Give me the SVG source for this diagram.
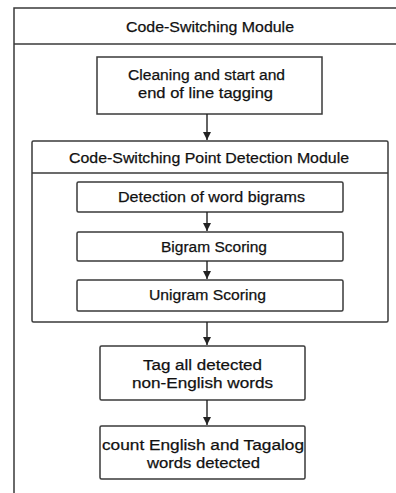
<svg xmlns="http://www.w3.org/2000/svg" width="396" height="493" viewBox="0 0 396 493">
<style>
.box{fill:#fff;stroke:#3a3a3a;stroke-width:1.5}
.ln{fill:none;stroke:#3a3a3a;stroke-width:1.5}
text{font-family:"Liberation Sans","Open Sans",sans-serif;font-size:15.5px;fill:#111;stroke:#111;stroke-width:0.25;text-anchor:middle}
.c{stroke:#222;stroke-width:1.4;fill:none;marker-end:url(#ah)}
</style>
<defs>
<marker id="ah" viewBox="0 0 10 10" refX="10" refY="5" markerWidth="8" markerHeight="8" markerUnits="userSpaceOnUse" orient="auto">
<path d="M0,0 L10,5 L0,10 z" fill="#222"/>
</marker>
</defs>
<rect width="396" height="493" fill="#fff"/>
<g id="outer">
<path class="ln" d="M14,493 L14,8 L396,8"/>
<line class="ln" x1="14" y1="44" x2="396" y2="44"/>
<text x="210" y="32" textLength="168" lengthAdjust="spacingAndGlyphs">Code-Switching Module</text>
</g>
<g id="cleaning">
<rect class="box" x="97" y="57" width="225" height="57"/>
<text x="206.5" y="80" textLength="157" lengthAdjust="spacingAndGlyphs">Cleaning and start and</text>
<text x="205.5" y="98" textLength="135" lengthAdjust="spacingAndGlyphs">end of line tagging</text>
</g>
<g id="cspd">
<rect class="box" x="32" y="141" width="356" height="181" rx="1.5"/>
<line class="ln" x1="32" y1="173" x2="388" y2="173"/>
<text x="209" y="163" textLength="280" lengthAdjust="spacingAndGlyphs">Code-Switching Point Detection Module</text>
</g>
<g id="detection">
<rect class="box" x="77" y="182" width="266" height="30" rx="1.5"/>
<text x="211.5" y="202" textLength="187" lengthAdjust="spacingAndGlyphs">Detection of word bigrams</text>
</g>
<g id="bigram">
<rect class="box" x="77" y="232" width="266" height="29" rx="1.5"/>
<text x="214" y="252" textLength="106" lengthAdjust="spacingAndGlyphs">Bigram Scoring</text>
</g>
<g id="unigram">
<rect class="box" x="77" y="280" width="266" height="31" rx="1.5"/>
<text x="207.5" y="300" textLength="117" lengthAdjust="spacingAndGlyphs">Unigram Scoring</text>
</g>
<g id="tag">
<rect class="box" x="100" y="346" width="205" height="54" rx="1.5"/>
<text x="202.5" y="370" textLength="119" lengthAdjust="spacingAndGlyphs">Tag all detected</text>
<text x="202.5" y="388" textLength="141" lengthAdjust="spacingAndGlyphs">non-English words</text>
</g>
<g id="count">
<rect class="box" x="100" y="426" width="205" height="53" rx="1.5"/>
<text x="203" y="450" textLength="202" lengthAdjust="spacingAndGlyphs">count English and Tagalog</text>
<text x="203.5" y="468" textLength="113" lengthAdjust="spacingAndGlyphs">words detected</text>
</g>
<g id="connectors">
<line class="c" x1="207" y1="114" x2="207" y2="140"/>
<line class="c" x1="207" y1="212" x2="207" y2="231"/>
<line class="c" x1="207" y1="261" x2="207" y2="279"/>
<line class="c" x1="207" y1="322" x2="207" y2="345"/>
<line class="c" x1="207" y1="400" x2="207" y2="425"/>
</g>
</svg>
